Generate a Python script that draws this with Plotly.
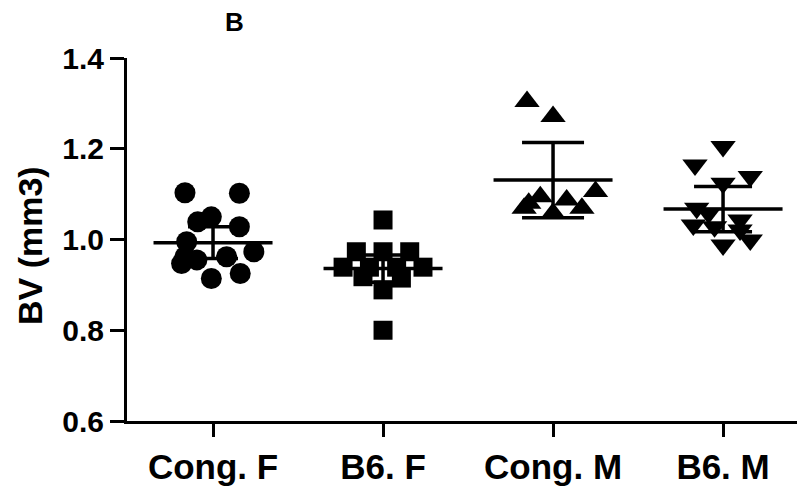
import plotly.graph_objects as go

# ---------------- data ----------------
categories = ["Cong. F", "B6. F", "Cong. M", "B6. M"]

cong_f = [1.103, 1.102, 1.050, 1.039, 1.028, 0.995, 0.962, 0.955, 0.962, 0.973, 0.914, 0.925, 0.947]
cong_f_jitter = [-0.165, 0.155, -0.01, -0.09, 0.155, -0.155, -0.165, -0.095, 0.08, 0.24, -0.01, 0.16, -0.185]

b6_f = [1.043, 0.800, 0.973, 0.973, 0.973, 0.939, 0.939, 0.939, 0.939, 0.918, 0.915, 0.889]
b6_f_jitter = [0.0, 0.0, -0.157, 0.0, 0.157, -0.235, -0.08, 0.08, 0.235, -0.118, 0.108, 0.0]

cong_m = [1.304, 1.271, 1.106, 1.080, 1.094, 1.087, 1.069, 1.069, 1.058]
cong_m_jitter = [-0.153, 0.0, 0.25, -0.143, -0.075, 0.08, 0.17, -0.17, 0.0]

b6_m = [1.205, 1.164, 1.139, 1.124, 1.069, 1.032, 1.028, 1.043, 0.988, 0.999, 1.058, 1.021]
b6_m_jitter = [0.0, -0.165, 0.16, 0.0, -0.155, -0.175, -0.05, 0.1, 0.0, 0.16, -0.085, 0.1]

group_means = [0.993, 0.936, 1.131, 1.067]
group_errors = [0.035, 0.030, 0.083, 0.050]

y_ticks = [0.6, 0.8, 1.0, 1.2, 1.4]

# ---------------- figure ----------------
FONT = "Liberation Sans, Arial, Helvetica, sans-serif"
groups = [
    (cong_f, cong_f_jitter, "circle", 21),
    (b6_f, b6_f_jitter, "square", 19),
    (cong_m, cong_m_jitter, "triangle-up", 22),
    (b6_m, b6_m_jitter, "triangle-down", 22),
]
cap_half_px = [25, 25, 31, 29]

fig = go.Figure()

# mean lines and error bars
for i, (m, e) in enumerate(zip(group_means, group_errors)):
    fig.add_trace(go.Scatter(
        x=[i - 0.35, i + 0.35], y=[m, m], mode="lines",
        line=dict(color="black", width=3.5), hoverinfo="skip", showlegend=False))
    fig.add_trace(go.Scatter(
        x=[i], y=[m], mode="markers", marker=dict(size=1, color="black"),
        error_y=dict(type="data", array=[e], visible=True, color="black",
                     thickness=3.5, width=cap_half_px[i]),
        hoverinfo="skip", showlegend=False))

# individual points
for i, (vals, jit, sym, sz) in enumerate(groups):
    fig.add_trace(go.Scatter(
        x=[i + j for j in jit], y=vals, mode="markers",
        marker=dict(symbol=sym, size=sz, color="black", line=dict(width=0)),
        showlegend=False, cliponaxis=False))

fig.update_layout(
    width=797, height=489,
    margin=dict(l=127, r=0, t=58, b=68),
    paper_bgcolor="white", plot_bgcolor="white",
    font=dict(family=FONT, color="black"),
    showlegend=False,
)

fig.update_xaxes(
    range=[-0.506, 3.435],
    tickmode="array", tickvals=list(range(len(categories))), ticktext=categories,
    showgrid=False, zeroline=False,
    showline=True, linecolor="black", linewidth=3,
    ticks="outside", ticklen=13, tickwidth=3, tickcolor="black",
    tickfont=dict(family=FONT, size=35, color="black", weight="bold"),
)
fig.update_yaxes(
    range=[0.6, 1.4],
    tickmode="array", tickvals=y_ticks, ticktext=[f"{v:.1f}" for v in y_ticks],
    showgrid=False, zeroline=False,
    showline=True, linecolor="black", linewidth=3,
    ticks="outside", ticklen=14, tickwidth=3, tickcolor="black",
    tickfont=dict(family=FONT, size=30, color="black", weight="bold"),
)

fig.add_annotation(
    text="BV (mm3)", textangle=-90, xref="paper", yref="paper",
    x=(30 - 127) / 670, y=(421 - 246) / 363, xanchor="center", yanchor="middle",
    showarrow=False, font=dict(family=FONT, size=34, color="black", weight="bold"))
fig.add_annotation(
    text="B", xref="paper", yref="paper",
    x=(234 - 127) / 670, y=(421 - 22) / 363, xanchor="center", yanchor="middle",
    showarrow=False, font=dict(family=FONT, size=26, color="black", weight="bold"))

fig.write_html("out.html")
